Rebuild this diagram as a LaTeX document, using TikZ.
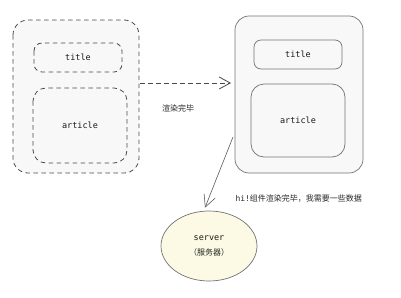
\documentclass[tikz,border=0pt]{standalone}
\usepackage{fontspec}
\setmonofont{DejaVu Sans Mono}
\newfontfamily\cjk{Noto Sans CJK SC}
\usetikzlibrary{arrows.meta,shapes.geometric}
\definecolor{lineg}{HTML}{4A4A4A}
\definecolor{boxfill}{HTML}{F8F8F8}
\definecolor{srvfill}{HTML}{FCFAE4}
\tikzset{
  dbox/.style={draw=lineg, line width=0.8pt, dash pattern=on 4.5pt off 3.5pt, fill=boxfill},
  sbox/.style={draw=gray!90!black, line width=0.7pt, fill=boxfill},
  lbl/.style={font=\ttfamily\fontsize{8.5}{10}\selectfont, text=black!90},
  cn/.style={font=\cjk\fontsize{8}{10}\selectfont, text=black!85},
}
\begin{document}
\begin{tikzpicture}[x=1pt,y=-1pt]
\useasboundingbox (0,0) rectangle (401,297);
% left (dashed)
\draw[dbox, rounded corners=15pt] (13,20) rectangle (139,173);
\coordinate (lo) at (140,83);
\draw[dbox, rounded corners=8pt] (34,43) rectangle (122,72);
\node[lbl] (lt) at (78,57.5) {title};
\draw[dbox, rounded corners=13pt] (33,88) rectangle (127,163);
\node[lbl] (la) at (80,125.5) {article};
% right (solid)
\draw[sbox, rounded corners=14pt] (235,16) rectangle (363,173);
\coordinate (ri) at (231,83);
\coordinate (rs) at (233,137);
\draw[sbox, rounded corners=7pt] (254,40) rectangle (342,69);
\node[lbl] (rt) at (298,54.5) {title};
\draw[sbox, rounded corners=13pt] (251,84) rectangle (345,157);
\node[lbl] (ra) at (298,120.5) {article};
% server
\node[shape=ellipse, draw=gray!90!black, line width=0.7pt, fill=srvfill, minimum width=96pt, minimum height=70pt, inner sep=0pt] (srv) at (209,246) {};
\node[lbl, inner sep=0pt] (srvt) at (209,238.5) {server};
\node[cn, inner sep=0pt] (srvc) at (209,252) {（服务器）};
% connectors
\draw[lineg, line width=0.8pt, dash pattern=on 4.5pt off 3.5pt, -{Straight Barb[length=11pt,width=12pt]}] (lo) -- (ri);
\node[cn] (l1) at (178,108) {渲染完毕};
\draw[gray!70!black, line width=0.6pt, -{Straight Barb[length=12pt,width=12pt]}] (rs) -- ([xshift=-4pt,yshift=3pt]srv.north);
\node[cn, anchor=west] (l2) at (232,199) {\ttfamily hi!\cjk 组件渲染完毕，我需要一些数据};
\end{tikzpicture}
\end{document}
